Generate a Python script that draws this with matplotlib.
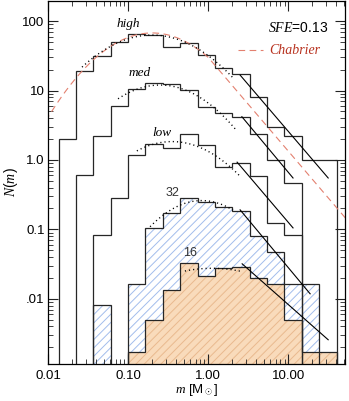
import numpy as np
import matplotlib.pyplot as plt
from matplotlib.ticker import LogLocator, NullFormatter

plt.rcParams['font.family'] = ['Liberation Sans', 'DejaVu Sans']
plt.rcParams['mathtext.fontset'] = 'custom'
plt.rcParams['mathtext.rm'] = 'Liberation Sans'
plt.rcParams['mathtext.it'] = 'Liberation Serif:italic'
plt.rcParams['hatch.linewidth'] = 0.7

# histogram bins, log10(m), 0.217 dex wide
log_edge0 = -1.868
bin_dex = 0.217
nbins = 16

n_high = [2.0, 19.3, 31.6, 50, 66, 64, 42.6, 48.7, 32.4, 20.8, 17.3, 8.1, 3.0, 2.2, 1.0, 1.0]
n_med = [0, 0.6, 2.2, 6.0, 10.5, 13, 12.4, 10.2, 5.8, 4.7, 4.1, 2.4, 1.0, 0.47, 0, 0]
n_low = [0, 0, 0.083, 0.28, 1.18, 1.72, 1.47, 2.37, 1.64, 0.80, 0.90, 0.58, 0.123, 0.083, 0, 0]
n_32 = [0, 0, 0.0081, 0, 0.0166, 0.106, 0.171, 0.287, 0.25, 0.21, 0.186, 0.080, 0.048, 0.0164, 0.0164, 0]
n_16 = [0, 0, 0, 0, 0.0017, 0.0050, 0.0135, 0.033, 0.021, 0.028, 0.029, 0.020, 0.0164, 0.0050, 0.0017, 0.0017]

# lognormal fits: log10 centre, sigma (dex), peak, log10 m range
fits = {
  'high': (-0.70, 0.60, 63.0, -1.575, 0.31),
  'med': (-0.60, 0.55, 12.0, -1.125, 0.34),
  'low': (-0.45, 0.56, 1.84, -0.89, 0.40),
  '32': (-0.08, 0.49, 0.26, -0.725, 0.31),
  '16': (0.05, 0.80, 0.0275, -0.29, 0.40),
}

# power-law tails: (m1, N1), (m2, N2)
tails = {
  'high': ((2.51, 16.7), (31.6, 0.55)),
  'med': ((2.64, 4.2), (11.5, 0.55)),
  'low': ((2.30, 0.93), (11.5, 0.105)),
  '32': ((2.51, 0.191), (18.8, 0.0118)),
  '16': ((2.66, 0.0319), (31.6, 0.00257)),
}

# Chabrier (2005) system IMF
chab_mc = 0.2
chab_sigma = 0.55
chab_peak = 67.6
chab_slope = -1.35


def lognorm(logm, lc, sig, peak):
  return peak * np.exp(-(logm - lc)**2 / (2 * sig**2))


def main():
  edges = 10**(log_edge0 + bin_dex * np.arange(nbins + 1))
  fig = plt.figure(figsize=(3.49, 4.01), dpi=100)
  ax = fig.add_axes([48/349, 1 - 364/401, 297.5/349, 363/401])
  ax.set_xscale('log')
  ax.set_yscale('log')

  tiny = 1e-7
  def pos(v):
    v = np.asarray(v, float)
    return np.where(v > 0, v, tiny)

  # filled areas
  ax.stairs(pos(n_32), edges, baseline=tiny, fill=True, facecolor='none',
            edgecolor='#a3bdec', hatch='////', linewidth=0)
  ax.stairs(pos(n_16), edges, baseline=tiny, fill=True, facecolor='#f9dbbb',
            edgecolor='#e9b98e', hatch='////', linewidth=0)

  for vals in [n_high, n_med, n_low, n_32, n_16]:
    ax.stairs(pos(vals), edges, baseline=tiny, color='#262626', linewidth=0.9)

  # Chabrier
  lm = np.linspace(-2.1, 1.8, 400)
  chab = np.where(lm <= 0, lognorm(lm, np.log10(chab_mc), chab_sigma, chab_peak),
                  lognorm(0, np.log10(chab_mc), chab_sigma, chab_peak) * (10**lm)**chab_slope)
  ax.plot(10**lm, chab, color='#e3806f', linewidth=0.8, dashes=(6, 4))

  for key, (lc, sig, peak, lo, hi) in fits.items():
    x = np.linspace(lo, hi, 100)
    ax.plot(10**x, lognorm(x, lc, sig, peak), color='black', linewidth=1.0,
            linestyle=(0, (0.8, 2.2)))

  for key, ((m1, n1), (m2, n2)) in tails.items():
    ax.plot([m1, m2], [n1, n2], color='black', linewidth=0.8)

  ax.set_xlim(0.01, 52)
  ax.set_ylim(1.15e-3, 195)
  ax.set_xticks([0.01, 0.1, 1, 10])
  ax.set_xticklabels(['0.01', '0.10', '1.00', '10.00'])
  ax.set_yticks([100, 10, 1, 0.1, 0.01])
  ax.set_yticklabels(['100', '10', '1.0', '0.1', '.01'])
  ax.xaxis.set_minor_locator(LogLocator(subs=np.arange(2, 10)))
  ax.yaxis.set_minor_locator(LogLocator(subs=np.arange(2, 10)))
  ax.xaxis.set_minor_formatter(NullFormatter())
  ax.yaxis.set_minor_formatter(NullFormatter())
  ax.tick_params(which='both', direction='in', top=True, right=True,
                 labelsize=9.5, color='#222222')
  ax.tick_params(which='major', length=7, width=0.8)
  ax.tick_params(which='minor', length=3.5, width=0.6)
  ax.tick_params(axis='x', pad=4)
  ax.tick_params(axis='y', pad=2.5)
  for s in ax.spines.values():
    s.set_linewidth(0.9)

  ax.set_xlabel(r'$m$ [M$_\odot$]', fontsize=9.5, labelpad=0)
  ax.set_ylabel(r'$N(m)$', fontsize=10, labelpad=2)

  lab = dict(fontsize=9.5, family='Liberation Serif', style='italic',
             ha='center', va='center')
  ax.text(0.101, 90, 'high', **lab)
  ax.text(0.141, 17.8, 'med', **lab)
  ax.text(0.266, 2.44, 'low', **lab)
  ax.text(0.355, 0.335, '32', fontsize=9, ha='center', va='center', color='#333333')
  ax.text(0.60, 0.0457, '16', fontsize=9, ha='center', va='center', color='#333333')
  ax.text(13.3, 79, r'$SFE$=0.13', fontsize=10, ha='center', va='center')
  ax.plot([2.37, 4.9], [38, 38], color='#e3806f', linewidth=0.8, dashes=(6, 4))
  ax.text(5.8, 38, 'Chabrier', fontsize=10, family='Liberation Serif',
          style='italic', color='#b8321f', ha='left', va='center')

  fig.savefig('out.png', dpi=100)

if __name__ == '__main__': main()
